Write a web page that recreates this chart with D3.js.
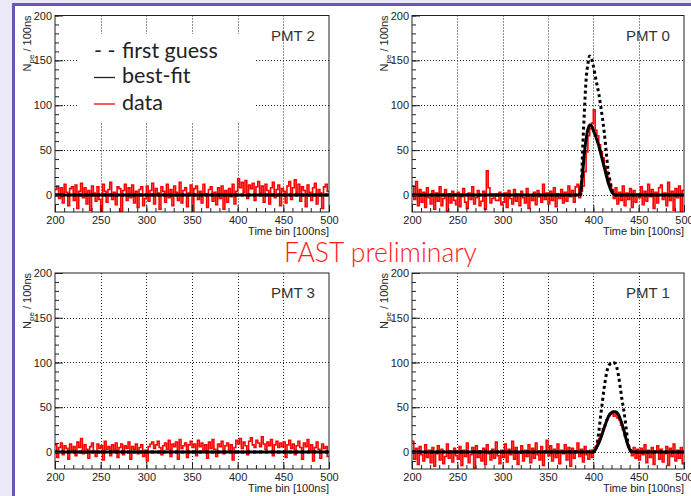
<!DOCTYPE html>
<html><head><meta charset="utf-8">
<script src="https://cdn.jsdelivr.net/npm/d3@7"></script>
<style>body{margin:0;background:#fff}svg{display:block}</style>
</head><body>
<svg id="c" width="691" height="496"></svg>
<script>
// ---------- data ----------
const xTicks = [200, 250, 300, 350, 400, 450, 500];
const yTicks = [0, 50, 100, 150, 200];
const binWidth = 2;
const binStarts = d3.range(200, 500, binWidth);

const pmt2Data = [
  6, 10, -4, 8, -9, 12, 3, -12, 7, 9, -6, 11, -15, 4, 13, -3, 8, -10, 5, -17, 10, 2, -7, 9, -5,
  -19, 12, 4, -8, 6, 14, -5, 3, -11, 9, 7, -19, 5, 12, -6, 8, -3, 11, -9, 4, -14, 6, 9, -12, -4,
  10, -7, 5, 13, -10, 7, 2, -16, 9, 4, -8, 12, -3, 6, -12, 10, 3, -6, 14, -9, 5, 8, -13, 2, 11,
  -19, 7, 10, -5, 4, -9, 12, 1, -14, 6, 9, -7, 3, -11, 8, -4, 10, -16, 5, -8, 7, -2, 12, -10, 4,
  18, 8, 14, 3, 16, -4, 11, 7, 13, -6, 9, 15, 2, 10, -8, 12, 5, -10, 8, 14, -3, 6, 11, -12, 7,
  4, -9, 10, 15, -5, 8, 17, 2, 12, -7, 9, 5, -13, 11, 3, -6, 8, 13, -10, 6, 2, -15, 9, 12, 4
];
const pmt0Data = [
  10, -5, 15, -12, 6, -8, 3, -14, 8, -3, -10, 5, -16, 2, -7, 9, -12, -4, 6, -18, 1, -9, 4, -6, -11,
  3, -13, -2, 7, -8, -15, 2, -5, 9, -10, -3, 5, -12, -7, 4, -16, 27, 8, -9, -4, 1, -6, -6, 3, -11,
  -8, 2, -14, 5, -4, -10, 6, -7, 1, -12, 4, -3, -9, 7, -15, 0, -6, 3, -11, 5, -2, -8, 12, -5, 2,
  -10, 4, -6, 8, -13, 1, -4, 6, -9, 3, -7, 10, -2, 5, -8, 9, 12, -3, 4, 10, 26, 48, 66, 74, 80,
  95, 72, 66, 56, 48, 41, 32, 26, 18, 12, 6, -4, 8, -10, 3, -6, 10, -12, 2, -5, 7, -14, 5, -8, 1,
  -3, 9, -11, 4, -7, 12, -2, 6, -15, 3, -9, 8, 11, -5, 2, -12, 14, -6, 4, -17, 7, -3, 10, -19, 5
];
const pmt3Data = [
  8, -6, 5, 10, -3, 7, 4, -8, 9, 2, 6, -4, 11, 5, 15, -2, 8, 3, -7, 6, 10, 1, -5, 9, 4,
  7, -9, 12, 3, 6, -4, 8, 2, 10, -6, 5, 9, -3, 7, 4, 11, -8, 6, 3, 9, -2, 5, 8, -5, 2,
  -10, 6, 9, 11, 4, 8, 12, 5, -3, 7, 10, 3, 13, -5, 9, 6, 11, -8, 14, 4, 7, 10, -6, 8, 12,
  5, 9, -4, 13, 6, 10, 2, 8, -7, 11, 4, 14, 3, -5, 9, 6, 12, -2, 7, 10, 1, 8, -9, 5, 13,
  9, 15, 4, 11, 7, -3, 12, 16, 8, 5, 13, 10, 6, 17, 9, 3, 11, 7, 14, -4, 8, 12, 5, 10, 6,
  11, -6, 8, 13, 4, 9, -3, 7, 12, 5, -8, 10, 6, 14, 2, 8, -10, 5, 11, 3, -7, 9, 4, 6, -5
];
const pmt1Data = [
  12, -8, 4, -14, 6, -3, -10, 8, -6, 2, -12, 5, -16, -2, 7, -9, 3, -13, -5, 9, -7, 1, -11, 4, -4,
  -8, 6, -15, 2, -5, 10, -12, -3, 5, -18, 7, -6, 1, -10, 4, -14, 8, -2, -9, 3, -7, 11, -4, -13, 2,
  -6, 9, -11, 3, -3, 12, -8, 5, -14, -1, 7, -10, 2, -5, 8, -12, 4, -7, 10, -3, -9, 6, -15, 1, 13,
  -4, 7, -10, 3, -6, 9, -13, 2, -2, 8, -9, 5, -16, 4, -7, 1, 10, -5, 3, -11, 6, -3, -8, 2, -6,
  3, 6, 10, 15, 20, 26, 30, 36, 40, 42, 44, 40, 43, 38, 36, 30, 25, 18, 12, 6, 2, -4, 5, -7, 3,
  -9, 4, -3, 8, -12, 2, -6, 5, -14, 1, 7, -8, 3, -11, -2, 6, -15, 4, -5, 9, -10, 2, -7, 5, -13
];

// fit curves as [time, Npe] points
const flatCurve = [[200, 0], [500, 0]];
const pmt0Fit = [[200, 0], [384, 0], [386, 5], [388, 22], [390, 45], [392, 62], [394, 73], [396, 78], [398, 77],
  [400, 72], [402, 67], [404, 61], [406, 55], [408, 47], [410, 39], [412, 31], [414, 23], [416, 15],
  [418, 9], [420, 4], [422, 1], [424, 0], [500, 0]];
const pmt0Guess = [[200, 0], [386, 0], [387, 15], [388, 45], [390, 90], [392, 128], [394, 146], [396, 155],
  [398, 152], [400, 144], [402, 133], [404, 123], [406, 113], [408, 100], [410, 86], [412, 70], [414, 50],
  [416, 30], [418, 18], [420, 7], [422, 1], [424, 0], [500, 0]];
const pmt1Fit = [[200, 0], [400, 0], [402, 2], [404, 6], [406, 10], [408, 15], [410, 21], [412, 27], [414, 33],
  [416, 38], [418, 42], [420, 44], [422, 45], [424, 45], [426, 44], [428, 41], [430, 36], [432, 30],
  [434, 23], [436, 15], [438, 8], [440, 3], [442, 1], [444, 0], [500, 0]];
const pmt1Guess = [[200, 0], [400, 0], [402, 2], [404, 8], [406, 22], [408, 40], [410, 56], [412, 72], [414, 85],
  [416, 94], [418, 98], [420, 100], [422, 100], [424, 99], [426, 94], [428, 84], [430, 70], [432, 56],
  [434, 44], [436, 28], [438, 12], [440, 3], [442, 0], [500, 0]];

const panelNames = ["PMT 2", "PMT 0", "PMT 3", "PMT 1"];
const panelData = [pmt2Data, pmt0Data, pmt3Data, pmt1Data];
const panelFit = [flatCurve, pmt0Fit, flatCurve, pmt1Fit];
const panelGuess = [flatCurve, pmt0Guess, flatCurve, pmt1Guess];

const legendLabels = ["first guess", "best-fit", "data"];
const yTitle = "N";
const yTitleSub = "pe";
const yTitleRest = " / 100ns";
const xTitle = "Time bin [100ns]";
const watermark = "FAST preliminary";

// ---------- layout ----------
const svg = d3.select("#c");
svg.append("rect").attr("width", 691).attr("height", 496).attr("fill", "#fff");
svg.append("rect").attr("x", 0).attr("y", 0).attr("width", 15).attr("height", 496).attr("fill", "#ebe8f8");
svg.append("rect").attr("x", 0).attr("y", 0).attr("width", 691).attr("height", 6).attr("fill", "#ebe8f8");
svg.append("rect").attr("x", 12).attr("y", 3).attr("width", 679).attr("height", 3).attr("fill", "#6a56b5");
svg.append("rect").attr("x", 12).attr("y", 3).attr("width", 3).attr("height", 493).attr("fill", "#6a56b5");

const boxes = [
  {x0: 55, x1: 329, y0: 15.5, y1: 212},
  {x0: 412, x1: 684, y0: 15.5, y1: 212},
  {x0: 55, x1: 329, y0: 273, y1: 469},
  {x0: 412, x1: 684, y0: 273, y1: 469}
];
const yDomain = [-19, 200];
const labelFont = "'Liberation Sans', Arial, sans-serif";

boxes.forEach((b, i) => {
  const g = svg.append("g");
  const x = d3.scaleLinear().domain([200, 500]).range([b.x0, b.x1]);
  const y = d3.scaleLinear().domain(yDomain).range([b.y1, b.y0]);
  const clipId = "clip" + i;
  g.append("clipPath").attr("id", clipId).append("rect")
    .attr("x", b.x0).attr("y", b.y0).attr("width", b.x1 - b.x0).attr("height", b.y1 - b.y0);

  // grid
  const grid = g.append("g").attr("stroke", "#222").attr("stroke-width", 1).attr("stroke-dasharray", "1,2");
  xTicks.slice(1, -1).forEach(t => {
    grid.append("line").attr("x1", Math.round(x(t)) + 0.5).attr("x2", Math.round(x(t)) + 0.5)
      .attr("y1", b.y0).attr("y2", b.y1);
  });
  yTicks.slice(0, -1).forEach(t => {
    grid.append("line").attr("y1", Math.round(y(t)) + 0.5).attr("y2", Math.round(y(t)) + 0.5)
      .attr("x1", b.x0).attr("x2", b.x1);
  });

  if (i === 0) {
    g.append("rect").attr("x", 77).attr("y", 34).attr("width", 178).attr("height", 88).attr("fill", "#fff");
  }

  const plot = g.append("g").attr("clip-path", `url(#${clipId})`);
  const data = panelData[i];
  const pts = binStarts.map((s, k) => [s, data[k]]);
  pts.push([500, data[data.length - 1]]);
  plot.append("path").datum(pts)
    .attr("d", d3.line().x(d => x(d[0])).y(d => y(d[1])).curve(d3.curveStepAfter))
    .attr("fill", "none").attr("stroke", "#ff0000").attr("stroke-width", 1.6);

  const line = d3.line().x(d => x(d[0])).y(d => y(d[1])).curve(d3.curveMonotoneX);
  plot.append("path").datum(panelGuess[i]).attr("d", line)
    .attr("fill", "none").attr("stroke", "#000").attr("stroke-width", 3).attr("stroke-dasharray", "3,3");
  plot.append("path").datum(panelFit[i]).attr("d", line)
    .attr("fill", "none").attr("stroke", "#000").attr("stroke-width", 3);

  // frame
  g.append("rect").attr("x", b.x0).attr("y", b.y0).attr("width", b.x1 - b.x0).attr("height", b.y1 - b.y0)
    .attr("fill", "none").attr("stroke", "#222").attr("stroke-width", 1);

  // axes
  const yMinor = d3.range(-10, 201, 10);
  const xMinor = d3.range(200, 501, 10);
  const ay = g.append("g").attr("transform", `translate(${b.x0},0)`)
    .call(d3.axisLeft(y).tickValues(yTicks).tickSize(-8).tickPadding(3));
  const ayMin = g.append("g").attr("transform", `translate(${b.x0},0)`)
    .call(d3.axisLeft(y).tickValues(yMinor).tickSize(-4).tickFormat(""));
  const ax = g.append("g").attr("transform", `translate(0,${b.y1})`)
    .call(d3.axisBottom(x).tickValues(xTicks).tickSize(-7).tickPadding(4));
  const axMin = g.append("g").attr("transform", `translate(0,${b.y1})`)
    .call(d3.axisBottom(x).tickValues(xMinor).tickSize(-4).tickFormat(""));
  [ay, ayMin, ax, axMin].forEach(a => {
    a.select(".domain").remove();
    a.selectAll("line").attr("stroke", "#222");
    a.selectAll("text").attr("font-family", labelFont).attr("font-size", 11).attr("fill", "#222");
  });

  // axis titles
  g.append("text").attr("x", b.x1).attr("y", b.y1 + 23)
    .attr("text-anchor", "end").attr("font-family", labelFont).attr("font-size", 11).attr("fill", "#222")
    .text(xTitle);
  const yt = g.append("text")
    .attr("transform", `translate(${b.x0 - 24},${b.y0}) rotate(-90)`)
    .attr("text-anchor", "end").attr("font-family", labelFont).attr("font-size", 11).attr("fill", "#222");
  yt.append("tspan").text(yTitle);
  yt.append("tspan").attr("font-size", 8).attr("dy", 3).text(yTitleSub);
  yt.append("tspan").attr("dy", -3).text(yTitleRest);

  // panel label
  g.append("text").attr("x", b.x1 - 58).attr("y", b.y0 + 25)
    .attr("font-family", labelFont).attr("font-size", 15).attr("fill", "#333")
    .text(panelNames[i]);
});

// legend
const legFont = "Lato, 'Open Sans', sans-serif";
const leg = svg.append("g").attr("font-family", legFont).attr("font-size", 21.5).attr("fill", "#222");
leg.append("text").attr("x", 94).attr("y", 58).text("- -");
leg.append("text").attr("x", 122).attr("y", 58).text(legendLabels[0]);
leg.append("line").attr("x1", 94).attr("x2", 115).attr("y1", 77.5).attr("y2", 77.5).attr("stroke", "#222").attr("stroke-width", 1.3);
leg.append("text").attr("x", 122).attr("y", 83).text(legendLabels[1]);
leg.append("line").attr("x1", 94).attr("x2", 115).attr("y1", 104).attr("y2", 104).attr("stroke", "#ff0000").attr("stroke-width", 1.3);
leg.append("text").attr("x", 122).attr("y", 110).text(legendLabels[2]);

svg.append("text").attr("x", 284).attr("y", 262)
  .attr("font-family", legFont).attr("font-size", 26.5).attr("font-weight", 300).attr("fill", "#ff1a1a")
  .text(watermark);
</script>
</body></html>
